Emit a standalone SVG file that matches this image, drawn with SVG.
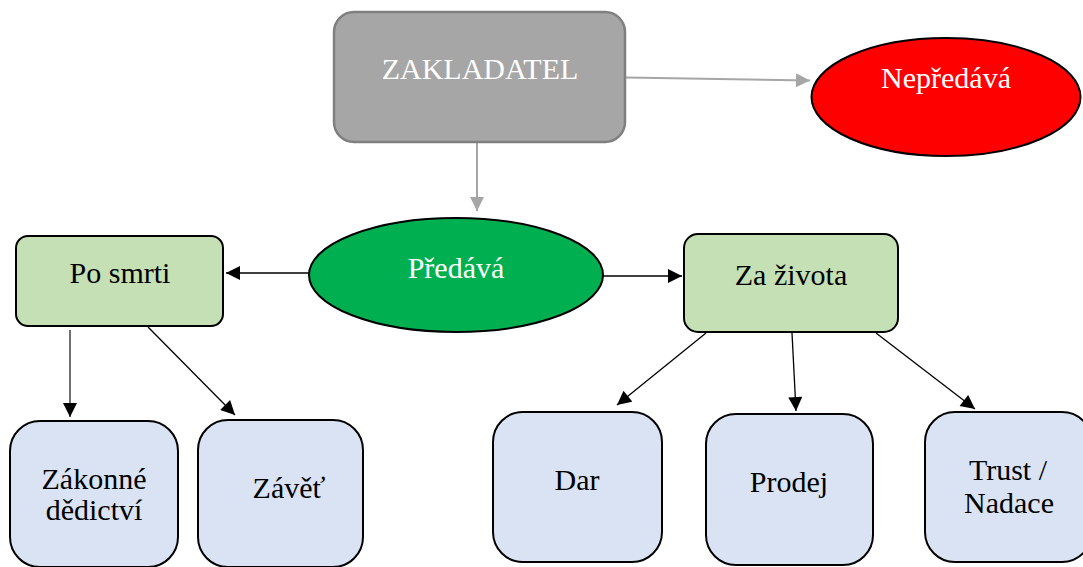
<svg xmlns="http://www.w3.org/2000/svg" width="1083" height="567" viewBox="0 0 1083 567">
<style>
.t{font-size:30px;text-anchor:middle}
.w{fill:#ffffff}
.k{fill:#000000}
.green{fill:#c5e0b4;stroke:#000;stroke-width:2}
.blue{fill:#dae3f3;stroke:#000;stroke-width:2}
.gl{stroke:#a6a6a6;stroke-width:2;fill:none}
.bl{stroke:#000;stroke-width:1.3;fill:none}
</style>
<defs>
<marker id="ag" viewBox="0 0 10 10" refX="10" refY="5" markerWidth="16" markerHeight="14" markerUnits="userSpaceOnUse" orient="auto"><path d="M0,0 L10,5 L0,10 Z" fill="#a6a6a6"/></marker>
<marker id="ab" viewBox="0 0 10 10" refX="10" refY="5" markerWidth="15" markerHeight="14" markerUnits="userSpaceOnUse" orient="auto"><path d="M0,0 L10,5 L0,10 Z" fill="#000"/></marker>
</defs>
<rect width="1083" height="567" fill="#fff"/>
<g id="connectors">
<line class="gl" x1="626" y1="77.5" x2="810" y2="80.5" marker-end="url(#ag)"/>
<line class="gl" x1="477" y1="143" x2="477" y2="211" marker-end="url(#ag)"/>
<line class="bl" x1="309" y1="273" x2="226" y2="273" marker-end="url(#ab)"/>
<line class="bl" x1="603" y1="276" x2="682" y2="276" marker-end="url(#ab)"/>
<line x1="70" y1="330" x2="70" y2="417" stroke="#404040" stroke-width="1.5" marker-end="url(#ab)"/>
<line class="bl" x1="148" y1="327" x2="235" y2="415" marker-end="url(#ab)"/>
<line class="bl" x1="706" y1="333" x2="617" y2="405" marker-end="url(#ab)"/>
<line class="bl" x1="792" y1="333" x2="796" y2="411" marker-end="url(#ab)"/>
<line class="bl" x1="876" y1="333" x2="975" y2="409" marker-end="url(#ab)"/>
</g>
<g font-family="'Liberation Serif', 'Times New Roman', 'DejaVu Serif', serif">
<g id="zakladatel">
<rect x="334" y="12" width="291" height="130" rx="20" fill="#a6a6a6" stroke="#7f7f7f" stroke-width="2.5"/>
<text class="t w" x="480" y="79">ZAKLADATEL</text>
</g>
<g id="nepredava">
<ellipse cx="946" cy="97" rx="134.5" ry="59" fill="#ff0000" stroke="#000" stroke-width="2"/>
<text class="t w" x="946" y="88">Nepředává</text>
</g>
<g id="predava">
<ellipse cx="456" cy="275" rx="147" ry="57" fill="#00b050" stroke="#000" stroke-width="2"/>
<text class="t w" x="456" y="278">Předává</text>
</g>
<g id="po-smrti">
<rect class="green" x="16" y="236" width="207" height="90" rx="12"/>
<text class="t k" x="120" y="283">Po smrti</text>
</g>
<g id="za-zivota">
<rect class="green" x="684" y="234" width="214" height="98" rx="14"/>
<text class="t k" x="791" y="285">Za života</text>
</g>
<g id="zakonne-dedictvi">
<rect class="blue" x="10" y="421" width="168" height="146" rx="30"/>
<text class="t k" x="94" y="489">Zákonné</text>
<text class="t k" x="94" y="520">dědictví</text>
</g>
<g id="zavet">
<rect class="blue" x="198" y="420" width="165" height="147" rx="30"/>
<text class="t k" x="289" y="498">Závěť</text>
</g>
<g id="dar">
<rect class="blue" x="493" y="412" width="169" height="150" rx="30"/>
<text class="t k" x="577" y="490">Dar</text>
</g>
<g id="prodej">
<rect class="blue" x="706" y="414" width="167" height="151" rx="30"/>
<text class="t k" x="789" y="492">Prodej</text>
</g>
<g id="trust-nadace">
<rect class="blue" x="925" y="412" width="167" height="150" rx="30"/>
<text class="t k" x="1008" y="480">Trust /</text>
<text class="t k" x="1009" y="513">Nadace</text>
</g>
</g>
</svg>
